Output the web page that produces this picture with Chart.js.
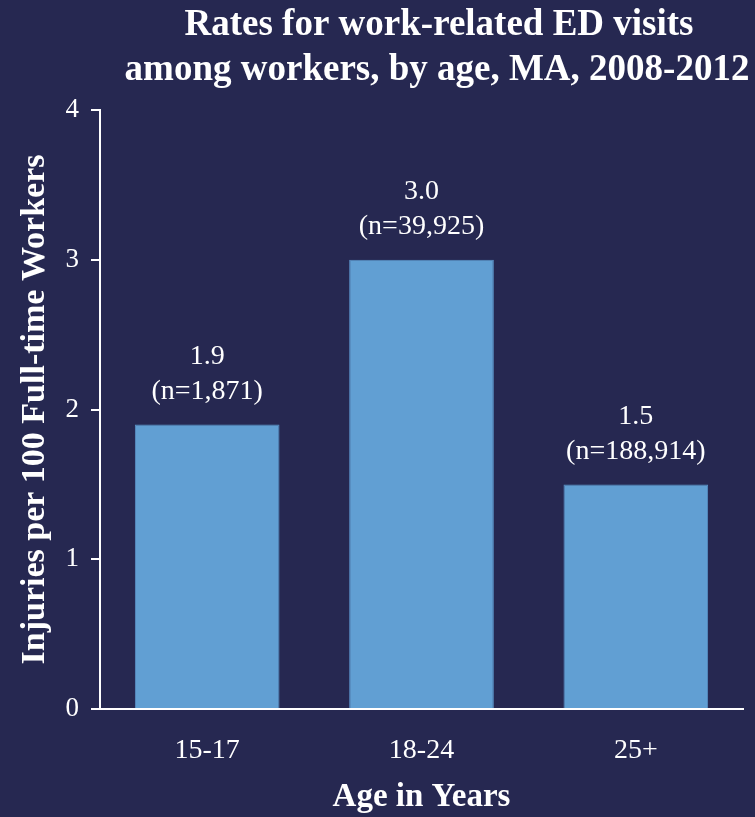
<!DOCTYPE html>
<html>
<head>
<meta charset="utf-8">
<script src="https://cdn.jsdelivr.net/npm/chart.js@4"></script>
<style>
  html, body { margin: 0; padding: 0; background: #262851; }
  #wrap { width: 755px; height: 817px; }
</style>
</head>
<body>
<div id="wrap"><canvas id="grafico" width="755" height="817"></canvas></div>
<script>
const categories = ['15-17', '18-24', '25+'];
const rates = [1.9, 3.0, 1.5];
const counts = ['1,871', '39,925', '188,914'];
const yTicks = [0, 1, 2, 3, 4];
const titleLines = ['Rates for work-related ED visits', 'among workers, by age, MA, 2008-2012'];

const serif = '"Liberation Serif", "DejaVu Serif", serif';

const bgPlugin = {
    id: 'bg',
    beforeDraw(chart) {
        const ctx = chart.ctx;
        ctx.save();
        ctx.fillStyle = '#262851';
        ctx.fillRect(0, 0, chart.width, chart.height);
        ctx.restore();
    }
};

// titulo centrado un poco a la derecha, como en la lamina original
const titlePlugin = {
    id: 'titulo',
    afterDraw(chart) {
        const ctx = chart.ctx;
        ctx.save();
        ctx.fillStyle = '#ffffff';
        ctx.font = 'bold 37px ' + serif;
        ctx.textAlign = 'center';
        ctx.textBaseline = 'middle';
        ctx.fillText(titleLines[0], 439, 25);
        ctx.fillText(titleLines[1], 437, 70);
        ctx.restore();
    }
};

const labelPlugin = {
    id: 'etiquetas',
    afterDatasetsDraw(chart) {
        const ctx = chart.ctx;
        const meta = chart.getDatasetMeta(0);
        ctx.save();
        ctx.fillStyle = '#ffffff';
        ctx.font = '28px ' + serif;
        ctx.textAlign = 'center';
        ctx.textBaseline = 'middle';
        meta.data.forEach((bar, i) => {
            ctx.fillText(rates[i].toFixed(1), bar.x, bar.y - 68);
            ctx.fillText('(n=' + counts[i] + ')', bar.x, bar.y - 33);
        });
        ctx.restore();
    }
};

const ctx = document.getElementById('grafico').getContext('2d');
new Chart(ctx, {
    type: 'bar',
    data: {
        labels: categories,
        datasets: [{
            data: rates,
            backgroundColor: '#619fd3',
            borderColor: '#5a93c8',
            borderWidth: 1,
            barPercentage: 0.675,
            categoryPercentage: 1
        }]
    },
    options: {
        responsive: false,
        animation: false,
        layout: { padding: { top: 110, right: 12, left: 0, bottom: 0 } },
        plugins: {
            legend: { display: false },
            tooltip: { enabled: false }
        },
        scales: {
            x: {
                grid: { display: true, drawOnChartArea: false, drawTicks: false },
                border: { color: '#ffffff', width: 2 },
                ticks: { color: '#ffffff', font: { family: serif, size: 28 }, padding: 25 },
                title: {
                    display: true,
                    text: 'Age in Years',
                    color: '#ffffff',
                    font: { family: serif, size: 33, weight: 'bold' },
                    padding: { top: 0, bottom: 0 }
                },
                afterFit(scale) { scale.height = 108; }
            },
            y: {
                min: 0,
                max: 4,
                afterBuildTicks(scale) { scale.ticks = yTicks.map(v => ({ value: v })); },
                grid: { drawOnChartArea: false, drawTicks: true, tickLength: 9, color: '#ffffff', lineWidth: 2 },
                border: { color: '#ffffff', width: 2 },
                ticks: { color: '#ffffff', font: { family: serif, size: 27 }, padding: 12 },
                title: {
                    display: true,
                    text: 'Injuries per 100 Full-time Workers',
                    color: '#ffffff',
                    font: { family: serif, size: 34, weight: 'bold' },
                    padding: { top: 15, bottom: 0 }
                },
                afterFit(scale) { scale.width = 100; }
            }
        }
    },
    plugins: [bgPlugin, titlePlugin, labelPlugin]
});
</script>
</body>
</html>
